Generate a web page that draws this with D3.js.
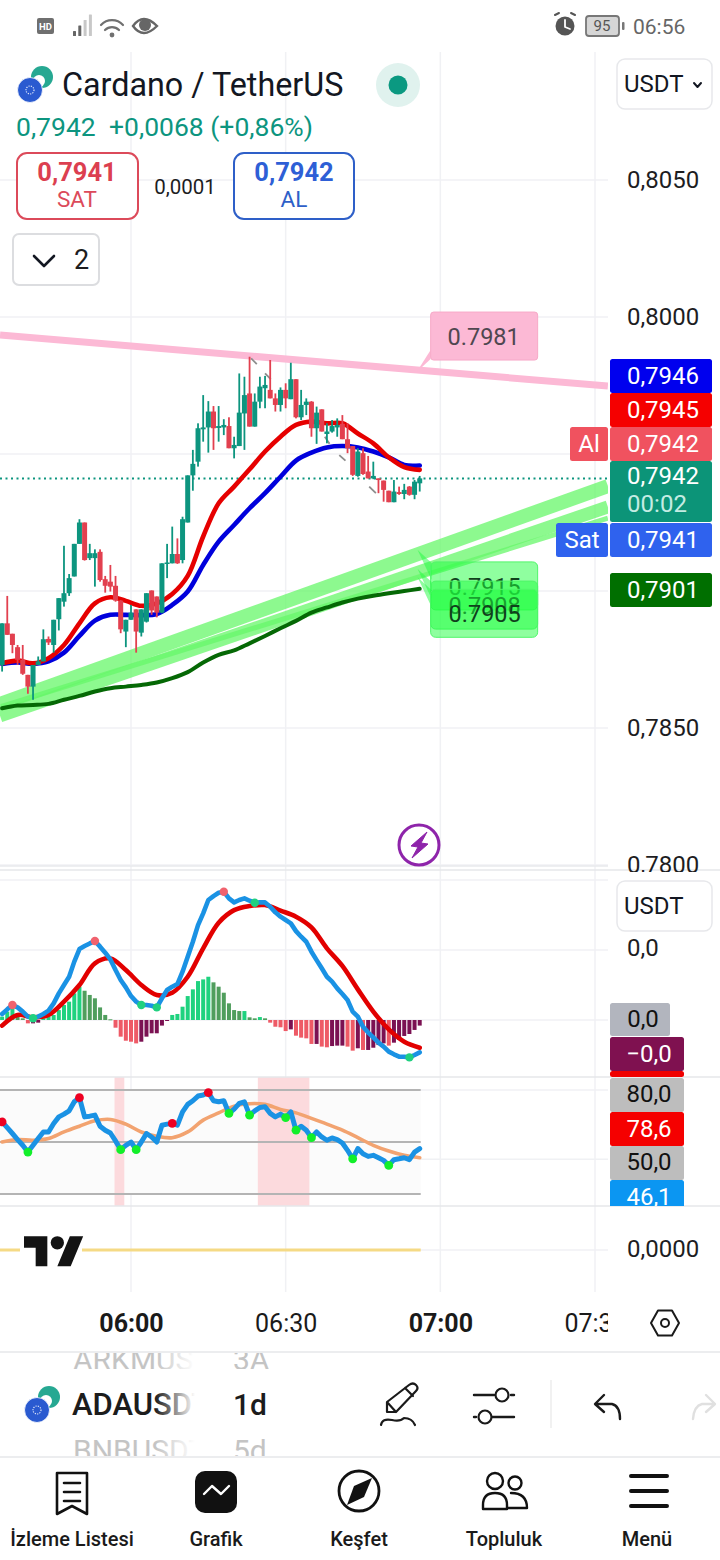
<!DOCTYPE html>
<html>
<head>
<meta charset="utf-8">
<script src="https://d3js.org/d3.v7.min.js"></script>
<style>
  html, body { margin: 0; padding: 0; background: #fff; }
  svg { display: block; font-family: Roboto, sans-serif; }
</style>
</head>
<body>
<div id="chart"></div>
<script>
// one minute candles, first one is 05:35
const startMinute = 335;
const candleOpen = [
  .7873,.78882,.78844,.78795,.78749,.78694,.78651,.7873,.78743,.78825,
  .78803,.78897,.78961,.78992,.79053,.79172,.7925,.7912,.7912,.79143,
  .79043,.79034,.79019,.78965,.78852,.78895,.78933,.78848,.78888,.79002,
  .7898,.78921,.79099,.79101,.79135,.79113,.7925,.79422,.79472,.7959,
  .79597,.79655,.79595,.79597,.79602,.79521,.79529,.79648,.79721,.796,
  .79691,.7974,.79734,.79703,.79679,.79734,.797,.79773,.79634,.79679,
  .79691,.79594,.79663,.79573,.79582,.79597,.7961,.79554,.79529,.7942,
  .79503,.79436,.79411,.79411,.79403,.79366,.79324,.79361,.79354,.79381,.79351,.79393];
const candleHigh = [
  .78882,.78982,.78844,.78803,.78803,.78694,.7873,.78761,.7886,.78834,
  .78895,.78974,.79165,.79062,.79172,.79262,.7925,.79172,.79152,.79152,
  .79055,.79095,.79055,.78967,.78895,.78949,.78933,.78933,.78992,.79002,
  .7898,.79101,.79172,.79235,.79192,.79271,.79422,.79515,.79612,.79715,
  .79693,.79675,.79675,.79627,.79634,.79563,.79794,.79782,.79855,.79721,
  .79782,.79785,.79843,.79721,.79743,.79758,.79833,.79773,.79734,.79703,
  .79693,.79673,.79663,.79612,.79624,.7963,.79642,.79612,.79529,.79521,
  .79521,.79493,.79472,.79411,.79403,.79366,.79405,.79381,.79391,.79383,.79405,.7942];
const candleLow = [
  .78706,.7884,.78773,.7873,.78694,.78625,.78603,.7873,.78743,.78803,
  .78775,.78856,.78943,.78982,.79053,.79172,.79111,.79113,.79016,.79034,
  .78994,.78998,.78961,.78846,.78795,.78895,.78775,.78834,.78885,.78913,
  .78904,.78919,.79047,.79101,.79099,.79101,.7925,.79366,.79454,.79545,
  .79505,.79515,.79545,.79569,.79521,.79484,.79529,.79515,.796,.796,
  .79667,.79667,.79703,.79655,.79655,.79667,.797,.7963,.79624,.79642,
  .79563,.79537,.79582,.79539,.79578,.79563,.79554,.79503,.7942,.79417,
  .79424,.79411,.79408,.79357,.79326,.79324,.79324,.79351,.79335,.79348,.79335,.79363];
const candleClose = [
  .78882,.7884,.78803,.78749,.78698,.78651,.7873,.78743,.78824,.78812,
  .78895,.78974,.78992,.79047,.79172,.7925,.79113,.79138,.79138,.7904,
  .79019,.79016,.78965,.7886,.78895,.78921,.78852,.78933,.78992,.78929,
  .78921,.79101,.79104,.79135,.79101,.79262,.79422,.79464,.79594,.79597,
  .79655,.79594,.79602,.79606,.79521,.79533,.79651,.79715,.796,.79691,
  .79746,.79752,.79703,.79679,.79734,.79703,.79773,.79634,.79679,.79691,
  .79594,.79651,.79582,.79582,.79602,.79606,.79554,.79521,.79424,.79509,
  .79427,.79411,.7942,.79405,.79369,.79324,.79363,.79354,.79369,.79351,.79399,.79411];

// smooth lines are read every third minute
const emaFast = [.78736,.78746,.78736,.78755,.78803,.78882,.78955,.78977,.78964,.78946,.78955,.78989,.79055,.79199,.7932,.79381,.79444,.79509,.79563,.79606,.79618,.79612,.79612,.79575,.79539,.79488,.79452,.79442];
const emaSlow = [.78734,.78739,.78734,.78743,.78775,.78836,.78892,.78913,.78913,.78912,.78916,.78949,.78998,.79095,.7918,.79241,.79302,.79357,.79417,.79476,.79505,.79524,.79529,.79524,.79509,.79488,.7946,.79458];
const emaLong = [.78572,.78582,.78584,.78588,.78603,.78617,.78633,.78645,.78651,.78657,.78666,.78682,.78704,.78739,.78767,.78783,.78809,.78836,.78864,.78891,.78921,.7894,.78958,.78972,.78983,.78992,.79,.79008];

// trend lines: [minute, price] at both ends
const trendPink = [[334.6, .79934], [452.5, .79748]];
const trendGreenA = [[334.6, .78588], [452.5, .79383]];
const trendGreenB = [[334.6, .78544], [452.5, .79307]];
const trendGreenC = [[334.6, .78577], [452.5, .79266]];
const calloutGreen = ["0.7915", "0.7908", "0.7905"];
const calloutGreenPrice = [.7915, .7908, .7905];
const calloutMinute = 415.6;

// grey zigzag pieces near the swing points
const zigzag = [
  [[383.3,.79849],[384.4,.79828]], [[386,.79794],[387.1,.79773]], [[397.6,.79563],[398.5,.79537]],
  [[400.4,.79496],[401.6,.79476]], [[406.2,.79381],[407.5,.79357]]
];

// macd pane, unit is 0.00001
const macdHist = [2.4,6,8.3,4.8,1.2,-2.4,-2.4,-1.9,1.2,2.4,3.6,7.1,10.7,13.1,19,23.8,20.9,17.9,15.5,9,3.6,.5,-5.5,-11.9,-14.8,-15.5,-16.7,-15.5,-11.9,-9.5,-9.5,-4,-.3,3.6,4.3,9.5,17.1,21.9,27.8,29,30.9,26.9,23.8,19.5,11.9,7.1,6.4,6.4,1.9,1.2,2.1,1.2,-1.9,-4.8,-5.2,-7.9,-6.7,-11.2,-12.6,-13.1,-17.1,-17.1,-19,-19.5,-18.6,-18.3,-18.3,-19,-21.9,-20.2,-21.4,-21.4,-19.8,-17.9,-16.7,-18.3,-16.2,-14.3,-11.4,-10,-7.1,-4];
const macdLine = [4.3,7.6,10.7,9,6,2.4,1.2,2.4,4.3,6.7,11.9,19,25,30.9,41.7,50.7,52.8,54.7,56.4,52.4,48.1,43.3,35.7,28.6,23.3,17.1,13.1,10.7,10.7,10.2,9,15.5,21.4,23.8,25.7,34.5,45.2,55.9,67.8,76.2,85.7,88.5,90.9,91.6,86.9,84,85.7,86.9,85.2,83.8,84,84,80.9,76.9,73.8,71.4,69,63.5,59.5,55.9,48.8,42.8,36.9,30.9,27.4,22.6,18.6,14.3,6,2.4,-4.8,-9,-12.4,-16.2,-19,-22.6,-24.5,-26.2,-26.2,-26.7,-25,-23.1];
const macdSignal = [-4,3.6,1.9,3.6,13.1,25,40.5,44,35.7,25,17.9,19.5,30.9,51.2,69.5,78.5,81.4,82.1,78.1,73.8,66.2,51.2,38.6,21.9,6,-6.7,-15.5,-19.8];
const macdCrossUp = [337, 353, 378];   // coral dots, minutes
const macdCrossDown = [341, 362, 365, 384, 414];  // green dots, minutes
const macdTicks = [100, 50, 0];

// rsi pane
const rsiLine = [61.6,58.3,54.9,51.4,48.1,44.2,48.1,52,55.8,55.8,60.7,64.5,66.1,68,73.2,75.6,64.5,64.9,65.5,59.1,56.8,55.2,50.6,45.6,48.1,50,45.6,50,54.9,52.9,50,59.7,60.3,60.7,59.7,67.4,71.7,73.8,76.5,77.1,78.5,73.8,73.2,73.8,66.5,69,72.3,73.2,65.5,68,69.9,70.3,66.5,64.5,66.1,64.1,67.4,56.8,59.1,56.8,52.5,55.8,52.9,51,52.3,51.4,49.4,45.2,40.3,46.2,43.2,41.7,42.3,40.9,39.4,36.5,39.8,40.3,40.9,39.8,44.2,46.2];
const rsiAverage = [50,51.4,51,52,55.8,59.1,62.2,63,60.3,55.8,53.3,52.5,55.8,62.6,66.8,70.7,72.1,71.7,68.8,66.8,63.6,60.3,56.8,52.5,48.1,44.8,42.3,40.9];
const rsiHighs = [335, 350, 368, 375];
const rsiLows = [340, 358, 361, 379, 383, 390, 392, 395, 403, 410];
const rsiLevels = [80, 50, 20];
const rsiGrid = [80, 40];
const rsiBands = [[356.8, 358.7], [384.6, 394.6]];

const priceTicks = [.805, .8, .795, .79, .785, .78];
const priceLabels = [.805, .8, .785, .78];
const timeTicks = [360, 390, 420, 450];
const timeLabels = ["06:00", "06:30", "07:00", "07:30"];
const navLabels = ["İzleme Listesi", "Grafik", "Keşfet", "Topluluk", "Menü"];

const W = 720, H = 1560, paneRight = 608;
const GREEN = "#0d957f", RED = "#e2404f", GRID = "#f0f1f4";

const minutes = candleOpen.map((d, i) => startMinute + i);
const samples = emaFast.map((d, i) => startMinute + i * 3);

const x = d3.scaleLinear().domain([360, 450]).range([131, 595]);
const y = d3.scaleLinear().domain([.8, .785]).range([317, 728]);
const yMacd = d3.scaleLinear().domain([0, 50]).range([1020, 950]);
const yRsi = d3.scaleLinear().domain([80, 50]).range([1090, 1142]);

const comma = d3.formatLocale({decimal: ",", thousands: ".", grouping: [3], currency: ["", ""]});
const fmt4 = comma.format(".4f");

const svg = d3.select("#chart").append("svg")
    .attr("width", W).attr("height", H).attr("viewBox", `0 0 ${W} ${H}`);

const defs = svg.append("defs");
function clip(id, cx, cy, cw, ch) {
  defs.append("clipPath").attr("id", id).append("rect")
      .attr("x", cx).attr("y", cy).attr("width", cw).attr("height", ch);
}
clip("paneClip", 0, 52, paneRight, 816);
clip("axisClip", 600, 150, 120, 722);
clip("timeClip", 0, 1295, paneRight, 50);
clip("rowTop", 0, 1353, 300, 16);
clip("rowBottom", 0, 1437, 300, 19);
clip("tagClip", 600, 1000, 120, 206);

function fadeGradient(id, from) {
  const g = defs.append("linearGradient").attr("id", id)
      .attr("gradientUnits", "userSpaceOnUse").attr("x1", 155).attr("x2", 195).attr("y1", 0).attr("y2", 0);
  g.append("stop").attr("offset", 0).attr("stop-color", from);
  g.append("stop").attr("offset", 1).attr("stop-color", "#fff");
}
fadeGradient("rowFade", "#1c1c1c");
fadeGradient("rowFadeGrey", "#c4c4c4");

function txt(parent, tx, ty, s, size, color, opts = {}) {
  return parent.append("text").attr("x", tx).attr("y", ty).text(s)
      .attr("font-size", size).attr("fill", color)
      .attr("font-weight", opts.weight || 400)
      .attr("text-anchor", opts.anchor || "start")
      .attr("dominant-baseline", "central");
}
function box(parent, bx, by, bw, bh, rad, fill, stroke, sw) {
  return parent.append("rect").attr("x", bx).attr("y", by).attr("width", bw).attr("height", bh)
      .attr("rx", rad).attr("fill", fill).attr("stroke", stroke || "none").attr("stroke-width", sw || 0);
}
function stroked(parent, d, color, sw) {
  return parent.append("path").attr("d", d).attr("fill", "none").attr("stroke", color)
      .attr("stroke-width", sw).attr("stroke-linecap", "round").attr("stroke-linejoin", "round");
}

// ---- grid ----
const grid = svg.append("g");
grid.selectAll("line.v").data(timeTicks).join("line").attr("class", "v")
    .attr("x1", d => x(d)).attr("x2", d => x(d)).attr("y1", 52).attr("y2", 1292)
    .attr("stroke", GRID).attr("stroke-width", 1.5);
const hGrid = priceTicks.map(d => y(d))
    .concat(macdTicks.map(d => yMacd(d)), rsiGrid.map(d => yRsi(d)), [1250]);
grid.selectAll("line.h").data(hGrid).join("line").attr("class", "h")
    .attr("x1", 0).attr("x2", paneRight).attr("y1", d => d).attr("y2", d => d)
    .attr("stroke", GRID).attr("stroke-width", 1.5);

// ---- price pane ----
const pane = svg.append("g").attr("clip-path", "url(#paneClip)");
const seg = d3.line().x(d => x(d[0])).y(d => y(d[1]));

[[trendGreenA, 14], [trendGreenB, 13], [trendGreenC, 5]].forEach(t => {
  pane.append("path").attr("d", seg(t[0])).attr("stroke", "#67f76a").attr("stroke-opacity", .75)
      .attr("stroke-width", t[1]).attr("fill", "none");
});
pane.append("path").attr("d", seg(trendPink)).attr("stroke", "#fcb9d5")
    .attr("stroke-width", 7).attr("fill", "none");

// dotted last price
const lastY = y(candleClose[candleClose.length - 1]);
pane.append("line").attr("x1", 0).attr("x2", paneRight).attr("y1", lastY).attr("y2", lastY)
    .attr("stroke", GREEN).attr("stroke-width", 2).attr("stroke-dasharray", "2 3.5");

const sampleLine = d3.line().x((d, i) => x(samples[i])).y(d => y(d)).curve(d3.curveCatmullRom);
[[emaLong, "#056805", 4], [emaSlow, "#0000dc", 4.6], [emaFast, "#e60000", 4.6]].forEach(s => {
  pane.append("path").attr("d", sampleLine(s[0])).attr("fill", "none")
      .attr("stroke", s[1]).attr("stroke-width", s[2]).attr("stroke-linecap", "round");
});

pane.selectAll("path.zig").data(zigzag).join("path").attr("class", "zig")
    .attr("d", seg).attr("stroke", "#8d8d8d").attr("stroke-width", 1.8).attr("fill", "none");

const candles = pane.append("g").selectAll("g").data(minutes).join("g")
    .attr("fill", (d, i) => candleClose[i] >= candleOpen[i] ? GREEN : RED);
candles.append("rect")
    .attr("x", d => x(d) - .9).attr("width", 1.8)
    .attr("y", (d, i) => y(candleHigh[i]))
    .attr("height", (d, i) => y(candleLow[i]) - y(candleHigh[i]));
candles.append("rect")
    .attr("x", d => x(d) - 2.5).attr("width", 5)
    .attr("y", (d, i) => y(Math.max(candleOpen[i], candleClose[i])))
    .attr("height", (d, i) => Math.max(1.5, Math.abs(y(candleOpen[i]) - y(candleClose[i]))));

// callouts: pink one on the falling line, green ones stacked, later ones cover earlier ones
const anchorX = x(calloutMinute), pinkY = y(.7981);
const callouts = svg.append("g");
callouts.append("path")
    .attr("d", `M${anchorX + 13},${pinkY - 19}L${anchorX - 1},${pinkY + 3}L${anchorX + 13},${pinkY - 10}Z`)
    .attr("fill", "#fcb9d5");
box(callouts, anchorX + 13, pinkY - 57, 107, 48, 3, "#fcb9d5", "#f7a9c8", 1);
txt(callouts, anchorX + 66, pinkY - 32, "0.7981", 23.5, "#4f4750", {anchor: "middle"});

calloutGreen.forEach((label, i) => {
  const ay = y(calloutGreenPrice[i]);
  const g = callouts.append("g");
  g.append("path").attr("d", `M${anchorX},${ay}L${anchorX + 14},${ay + 13}V${ay + 30}Z`)
      .attr("fill", "#20fb40").attr("fill-opacity", .5);
  box(g, anchorX + 13, ay + 12, 107, 48, 5, "#20ff40", "#50f56a", 1).attr("fill-opacity", .5);
  txt(g, anchorX + 67, ay + 37, label, 23.5, "#10401c", {anchor: "middle"});
});

// ---- macd pane ----
const macdPane = svg.append("g");
const histColor = (v, i) => {
  const prev = i > 0 ? macdHist[i - 1] : v;
  if (v >= 0) return v >= prev ? "#1fd27f" : "#509e5d";
  return v < prev ? "#ee5a66" : "#7b1152";
};
macdPane.selectAll("rect").data(macdHist).join("rect")
    .attr("x", (d, i) => x(minutes[i]) - 2).attr("width", 4)
    .attr("y", d => Math.min(yMacd(d), yMacd(0)))
    .attr("height", d => Math.max(1, Math.abs(yMacd(d) - yMacd(0))))
    .attr("fill", histColor);

const macdSampleLine = d3.line().x((d, i) => x(samples[i])).y(d => yMacd(d)).curve(d3.curveCatmullRom);
macdPane.append("path").attr("d", macdSampleLine(macdSignal)).attr("fill", "none")
    .attr("stroke", "#e20000").attr("stroke-width", 4.6).attr("stroke-linecap", "round");
const macdMinuteLine = d3.line().x((d, i) => x(minutes[i])).y(d => yMacd(d));
macdPane.append("path").attr("d", macdMinuteLine(macdLine)).attr("fill", "none")
    .attr("stroke", "#1a92e4").attr("stroke-width", 4.6).attr("stroke-linejoin", "round").attr("stroke-linecap", "round");

const macdDots = macdCrossUp.map(m => [m, "#f0626e"]).concat(macdCrossDown.map(m => [m, "#20d080"]));
macdPane.selectAll("circle").data(macdDots).join("circle")
    .attr("cx", d => x(d[0])).attr("cy", d => yMacd(macdLine[d[0] - startMinute]))
    .attr("r", 4.2).attr("fill", d => d[1]);

// ---- rsi pane ----
const rsiPane = svg.append("g");
const lastX = x(minutes[minutes.length - 1]) + 1;
rsiPane.append("rect").attr("x", 0).attr("width", lastX)
    .attr("y", yRsi(80)).attr("height", yRsi(20) - yRsi(80)).attr("fill", "#fbfbfb");
rsiPane.selectAll("rect.band").data(rsiBands).join("rect").attr("class", "band")
    .attr("x", d => x(d[0])).attr("width", d => x(d[1]) - x(d[0]))
    .attr("y", 1077).attr("height", 129).attr("fill", "#fcdadd");
rsiPane.selectAll("line.level").data(rsiLevels).join("line").attr("class", "level")
    .attr("x1", 0).attr("x2", lastX)
    .attr("y1", d => yRsi(d)).attr("y2", d => yRsi(d))
    .attr("stroke", "#b4b4b4").attr("stroke-width", 2);

const rsiSampleLine = d3.line().x((d, i) => x(samples[i])).y(d => yRsi(d)).curve(d3.curveCatmullRom);
rsiPane.append("path").attr("d", rsiSampleLine(rsiAverage)).attr("fill", "none")
    .attr("stroke", "#f2a370").attr("stroke-width", 3.6).attr("stroke-linecap", "round");
const rsiMinuteLine = d3.line().x((d, i) => x(minutes[i])).y(d => yRsi(d));
rsiPane.append("path").attr("d", rsiMinuteLine(rsiLine)).attr("fill", "none")
    .attr("stroke", "#1a92e4").attr("stroke-width", 5).attr("stroke-linejoin", "round").attr("stroke-linecap", "round");
const rsiDots = rsiHighs.map(m => [m, "#ee0022"]).concat(rsiLows.map(m => [m, "#12ef2a"]));
rsiPane.selectAll("circle").data(rsiDots).join("circle")
    .attr("cx", d => x(d[0])).attr("cy", d => yRsi(rsiLine[d[0] - startMinute]))
    .attr("r", 4.4).attr("fill", d => d[1]);

// ---- bottom pane with the logo ----
svg.append("line").attr("x1", 0).attr("x2", lastX)
    .attr("y1", 1250).attr("y2", 1250).attr("stroke", "#f5da85").attr("stroke-width", 3);
box(svg, 20, 1232, 62, 38, 0, "#fff");
svg.append("g").attr("transform", "translate(24,1229.5) scale(1.667)").call(g => {
  g.append("path").attr("d", "M14 22H7V11H0V4h14v18zM28 22h-8l7.5-18h8L28 22z").attr("fill", "#131313");
  g.append("circle").attr("cx", 20).attr("cy", 8).attr("r", 4).attr("fill", "#131313");
});

// pane dividers
[870, 1077, 1206, 1352, 1457].forEach(d => {
  svg.append("line").attr("x1", 0).attr("x2", W).attr("y1", d).attr("y2", d)
      .attr("stroke", "#e6e7ea").attr("stroke-width", 1.5);
});
svg.append("line").attr("x1", 0).attr("x2", paneRight).attr("y1", 866).attr("y2", 866)
    .attr("stroke", "#e9eaed").attr("stroke-width", 1.5);

// ---- axes ----
const priceAxis = d3.axisRight(y).tickValues(priceLabels).tickFormat(fmt4).tickSize(0).tickPadding(0);
svg.append("g").attr("clip-path", "url(#axisClip)")
  .append("g").attr("transform", "translate(627,0)")
    .call(priceAxis).call(g => {
      g.select(".domain").remove();
      g.selectAll("text").attr("font-size", 24).attr("fill", "#1d1d1f").attr("font-family", "Roboto, sans-serif");
    });

const timeAxis = d3.axisBottom(x).tickValues(timeTicks)
    .tickFormat((d, i) => timeLabels[i]).tickSize(0).tickPadding(0);
svg.append("g").attr("clip-path", "url(#timeClip)")
  .append("g").attr("transform", "translate(0,1314)")
    .call(timeAxis).call(g => {
      g.select(".domain").remove();
      g.selectAll("text").attr("font-size", 25).attr("fill", "#1a1a1a").attr("font-family", "Roboto, sans-serif")
          .attr("font-weight", (d, i) => i % 2 === 0 ? 700 : 400);
    });

txt(svg, 627, 948, "0,0", 24, "#1d1d1f");
txt(svg, 627, 1249, "0,0000", 24, "#1d1d1f");

// ---- price tags ----
function tag(parent, tx, ty, tw, th, fill, label, color) {
  box(parent, tx, ty, tw, th, 2.5, fill);
  txt(parent, 663, ty + th / 2, label, 24, color, {anchor: "middle"});
}
const tags = svg.append("g");
tag(tags, 610, 359, 102, 34, "#0000ee", "0,7946", "#fff");
tag(tags, 610, 393, 102, 34, "#f50000", "0,7945", "#fff");
tag(tags, 610, 427, 102, 34, "#f0525f", "0,7942", "#fff");
box(tags, 570, 427, 38, 34, 2.5, "#f0525f");
txt(tags, 589, 444, "Al", 24, "#fff", {anchor: "middle"});
box(tags, 610, 461, 102, 61, 2.5, "#0c9478");
txt(tags, 663, 476, "0,7942", 24, "#fff", {anchor: "middle"});
txt(tags, 657, 504, "00:02", 24, "#c4ece3", {anchor: "middle"});
tag(tags, 610, 523, 102, 34, "#2f62ee", "0,7941", "#fff");
box(tags, 556, 523, 52, 34, 2.5, "#2f62ee");
txt(tags, 582, 540, "Sat", 24, "#fff", {anchor: "middle"});
tag(tags, 610, 573, 102, 34, "#006f00", "0,7901", "#fff");

const lowerTags = svg.append("g").attr("clip-path", "url(#tagClip)");
box(lowerTags, 610, 1003, 60, 33, 2.5, "#b2b5be");
txt(lowerTags, 643, 1019, "0,0", 24, "#111", {anchor: "middle"});
box(lowerTags, 610, 1071, 74, 6, 2.5, "#f00000");
box(lowerTags, 610, 1037, 74, 34, 2.5, "#7f1150");
txt(lowerTags, 649, 1054, "−0,0", 24, "#fff", {anchor: "middle"});
box(lowerTags, 610, 1078, 74, 34, 2.5, "#bdbdbd");
txt(lowerTags, 649, 1094, "80,0", 24, "#111", {anchor: "middle"});
box(lowerTags, 610, 1112, 74, 34, 2.5, "#f50000");
txt(lowerTags, 649, 1129, "78,6", 24, "#fff", {anchor: "middle"});
box(lowerTags, 610, 1146, 74, 34, 2.5, "#bdbdbd");
txt(lowerTags, 649, 1162, "50,0", 24, "#111", {anchor: "middle"});
box(lowerTags, 610, 1180, 74, 34, 2.5, "#0b96f2");
txt(lowerTags, 649, 1197, "46,1", 24, "#fff", {anchor: "middle"});

// ---- header ----
const head = svg.append("g");
function coinPair(parent, cx, cy, s) {
  parent.append("circle").attr("cx", cx + 12 * s).attr("cy", cy - 13 * s).attr("r", 11 * s).attr("fill", "#26a892");
  parent.append("circle").attr("cx", cx + 9 * s).attr("cy", cy - 9 * s).attr("r", 6 * s).attr("fill", "#fff");
  parent.append("circle").attr("cx", cx).attr("cy", cy).attr("r", 12.5 * s).attr("fill", "#2a5ad0")
      .attr("stroke", "#fff").attr("stroke-width", .8);
  parent.append("circle").attr("cx", cx).attr("cy", cy).attr("r", 4 * s).attr("fill", "none")
      .attr("stroke", "#dfe7fb").attr("stroke-width", 1.2).attr("stroke-dasharray", "1.2 1.2");
}
coinPair(head, 30, 90, 1);
txt(head, 62, 85, "Cardano / TetherUS", 32.3, "#131722");
head.append("circle").attr("cx", 398).attr("cy", 85).attr("r", 22).attr("fill", "#e0f2ee");
head.append("circle").attr("cx", 398).attr("cy", 85).attr("r", 9.5).attr("fill", "#0b9981");
txt(head, 16, 126, "0,7942", 26.5, GREEN);
txt(head, 109, 126, "+0,0068 (+0,86%)", 26.5, GREEN);

box(head, 17, 153, 121, 66, 10, "#fff", "#dc4a5a", 2);
txt(head, 77, 172, "0,7941", 25.5, "#dc3f50", {anchor: "middle", weight: 700});
txt(head, 77, 199, "SAT", 22.5, "#dc4a5a", {anchor: "middle"});
txt(head, 185, 187, "0,0001", 20.5, "#1d1d1f", {anchor: "middle"});
box(head, 234, 153, 120, 66, 10, "#fff", "#2e5fc8", 2);
txt(head, 294, 172, "0,7942", 25.5, "#2e5fd6", {anchor: "middle", weight: 700});
txt(head, 294, 199, "AL", 22.5, "#2e5fc8", {anchor: "middle"});

box(head, 13, 234, 86, 51, 6, "#fff", "#dcdde0", 2);
stroked(head, "M34,256L44,266L54,256", "#131722", 2.6);
txt(head, 74, 260, "2", 27, "#1d1d1f");

box(head, 617, 59, 95, 50, 8, "#fff", "#e7e8eb", 1.5);
txt(head, 624, 84, "USDT", 24, "#131722");
stroked(head, "M694,83L697.5,87L701,83", "#131722", 2);
box(head, 617, 881, 95, 50, 8, "#fff", "#e7e8eb", 1.5);
txt(head, 624, 906, "USDT", 24, "#131722");

// lightning badge
head.append("circle").attr("cx", 419).attr("cy", 845).attr("r", 20).attr("fill", "#fff")
    .attr("stroke", "#8e24aa").attr("stroke-width", 3);
head.append("path").attr("d", "M427,832L411,846L418,847L412,858L428,844L421,843Z")
    .attr("fill", "#8e24aa").attr("stroke", "#8e24aa").attr("stroke-linejoin", "round");

// ---- status bar ----
const bar = svg.append("g");
box(bar, 37, 18, 17, 16, 2, "#6f6f6f");
txt(bar, 45.5, 26.5, "HD", 9.5, "#fff", {anchor: "middle", weight: 700});
[0, 1, 2, 3].forEach(i => {
  const h = 5 + i * 5.5;
  box(bar, 73 + i * 5.3, 36 - h, 3, h, .5, i < 2 ? "#666" : "#c8c8c8");
});
stroked(bar, "M101,25A15,15,0,0,1,123,25", "#707070", 2.2);
stroked(bar, "M105,30A10,10,0,0,1,119,30", "#707070", 2.2);
bar.append("circle").attr("cx", 112).attr("cy", 35).attr("r", 2.4).attr("fill", "#707070");
bar.append("path").attr("d", "M133,26Q143,12,157,26Q143,40,133,26Z").attr("fill", "#fff").attr("stroke", "#666").attr("stroke-width", 2.4);
bar.append("circle").attr("cx", 145).attr("cy", 25).attr("r", 6).attr("fill", "#666");

bar.append("circle").attr("cx", 565).attr("cy", 26).attr("r", 9.5).attr("fill", "#555");
stroked(bar, "M565,20V27L570,29", "#fff", 1.8);
stroked(bar, "M555,15L559,13M575,15L571,13", "#555", 2);
box(bar, 586, 16, 33, 20, 3, "#d6d6d6", "#777", 1.8);
txt(bar, 602, 26, "95", 15, "#555", {anchor: "middle"});
box(bar, 622, 22, 2.5, 8, 1, "#777");
txt(bar, 633, 27, "06:56", 21, "#666");

// ---- bottom toolbar ----
const tool = svg.append("g");
stroked(tool, "M658,1310.5H672L679,1323L672,1335.5H658L651,1323Z", "#1a1a1a", 2);
tool.append("circle").attr("cx", 665).attr("cy", 1323).attr("r", 4).attr("fill", "none").attr("stroke", "#1a1a1a").attr("stroke-width", 2);

txt(tool.append("g").attr("clip-path", "url(#rowTop)"), 73, 1359, "ARKMUSDT", 30, "url(#rowFadeGrey)");
txt(tool.append("g").attr("clip-path", "url(#rowTop)"), 233, 1359, "3A", 30, "#c4c4c4");
coinPair(tool, 37, 1410, 1);
txt(tool, 72, 1404, "ADAUSDT", 31, "url(#rowFade)", {weight: 500});
box(tool, 197, 1385, 30, 40, 0, "#fff");
txt(tool, 233, 1404, "1d", 30, "#1c1c1c", {weight: 500});
txt(tool.append("g").attr("clip-path", "url(#rowBottom)"), 73, 1450, "BNBUSDT", 30, "url(#rowFadeGrey)");
txt(tool.append("g").attr("clip-path", "url(#rowBottom)"), 233, 1450, "5d", 30, "#c4c4c4");
box(tool, 197, 1353, 30, 16, 0, "#fff");
box(tool, 197, 1437, 30, 19, 0, "#fff");

// pencil
stroked(tool, "M387,1412V1402L409,1385Q413,1382,416,1385Q419,1388,416,1391L396,1412ZM387,1402L396,1412M405,1388L413,1396", "#1a1a1a", 2.2);
stroked(tool, "M381,1425Q382,1418,392,1420Q400,1422,404,1418Q412,1418,415,1425", "#1a1a1a", 2.2);
// sliders
stroked(tool, "M474,1395H494M511,1395H514M474,1417H476M492,1417H514", "#1a1a1a", 2.4);
tool.append("circle").attr("cx", 502).attr("cy", 1395).attr("r", 6.5).attr("fill", "#fff").attr("stroke", "#1a1a1a").attr("stroke-width", 2.2);
tool.append("circle").attr("cx", 485).attr("cy", 1417).attr("r", 6.5).attr("fill", "#fff").attr("stroke", "#1a1a1a").attr("stroke-width", 2.2);
tool.append("line").attr("x1", 551).attr("x2", 551).attr("y1", 1380).attr("y2", 1428).attr("stroke", "#eceded").attr("stroke-width", 1.5);
// undo, redo
stroked(tool, "M604,1395L595,1404L604,1412M596,1404H612Q620,1406,620,1419", "#1a1a1a", 2.4);
stroked(tool, "M706,1395L715,1404L706,1412M712,1404H702Q694,1406,693,1419", "#e0e0e0", 2.4);

// ---- navigation ----
const nav = svg.append("g");
nav.selectAll("text").data(navLabels).join("text")
    .attr("x", (d, i) => [72, 216, 359, 504, 647][i]).attr("y", 1539)
    .attr("text-anchor", "middle").attr("dominant-baseline", "central")
    .attr("font-size", 20).attr("font-weight", 500).attr("fill", "#1a1a1a").text(d => d);
stroked(nav, "M57,1473H87V1514L72,1506L57,1514Z", "#111", 2.6);
stroked(nav, "M64,1483H80M64,1492H80M64,1501H80", "#111", 2.6);
box(nav, 195, 1471, 42, 42, 10, "#111");
stroked(nav, "M204,1494L212,1486L221,1494L229,1486", "#fff", 2.4);
nav.append("circle").attr("cx", 359).attr("cy", 1491).attr("r", 20).attr("fill", "none").attr("stroke", "#111").attr("stroke-width", 2.8);
nav.append("path").attr("d", "M372,1478L364,1497L347,1505L354,1486Z").attr("fill", "#111");
nav.append("circle").attr("cx", 495).attr("cy", 1481).attr("r", 8).attr("fill", "none").attr("stroke", "#111").attr("stroke-width", 2.4);
nav.append("circle").attr("cx", 515).attr("cy", 1483).attr("r", 6.5).attr("fill", "none").attr("stroke", "#111").attr("stroke-width", 2.4);
stroked(nav, "M483,1509V1505Q483,1493,495,1493Q507,1493,507,1505V1509Z", "#111", 2.4);
stroked(nav, "M511,1493Q527,1493,527,1508H508", "#111", 2.4);
stroked(nav, "M631,1476H667M631,1491H667M631,1506H667", "#111", 4);
</script>
</body>
</html>
